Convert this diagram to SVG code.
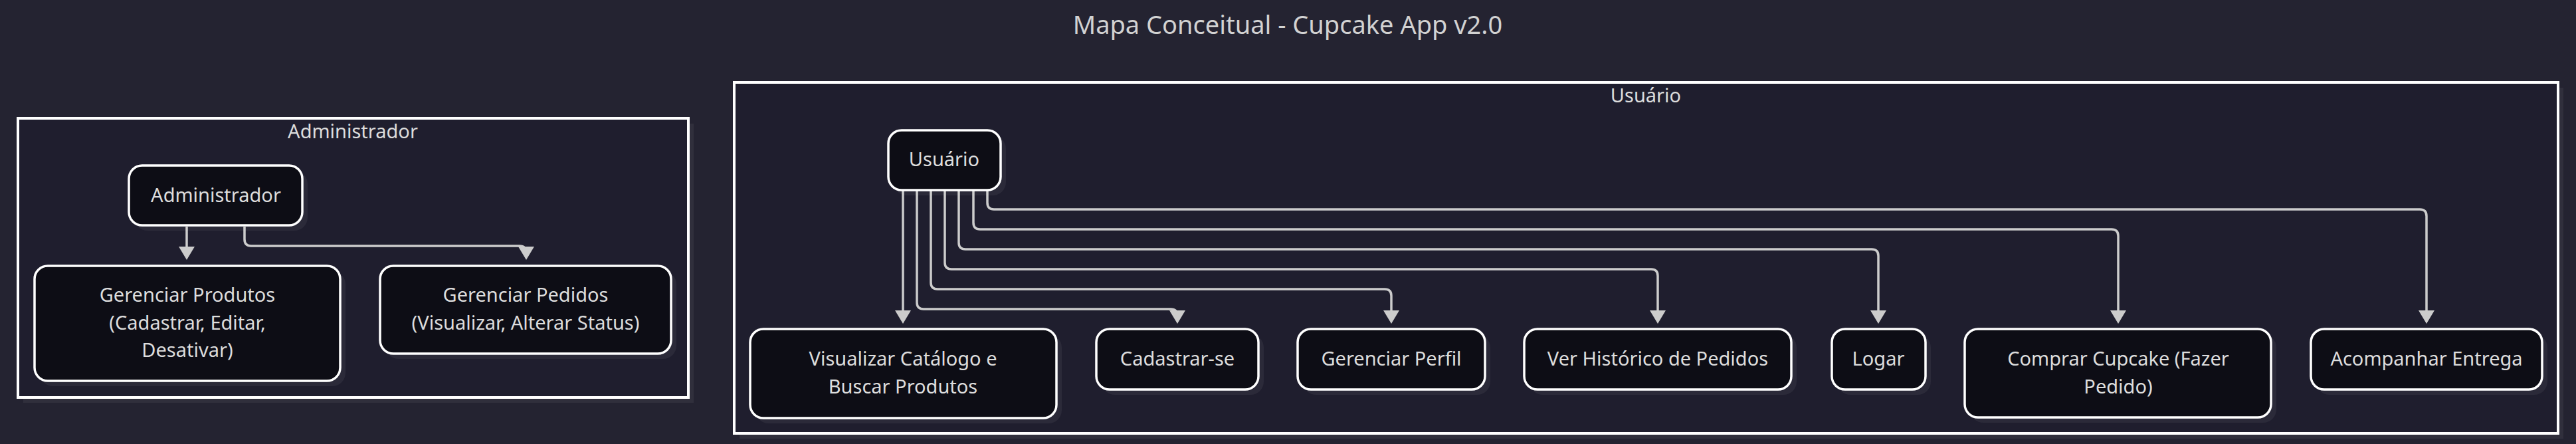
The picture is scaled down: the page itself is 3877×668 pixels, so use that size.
<svg xmlns="http://www.w3.org/2000/svg" width="3877" height="668" viewBox="0 0 3877 668">
  <defs>
    <marker id="arrow" markerUnits="userSpaceOnUse" viewBox="0 0 20 24" markerWidth="20" markerHeight="24" refX="13" refY="12" orient="auto">
      <path d="M0,0 L20,12 L0,24 z" fill="#cccccc"/>
    </marker>
  </defs>
  <style>
    .bg { fill: #242331; }
    .cluster { fill: #1f1e2e; stroke: #ffffff; stroke-width: 4; }
    .shadow { fill: #ffffff; fill-opacity: 0.055; }
    .node { fill: #0d0d15; stroke: #ffffff; stroke-width: 3.5; }
    .txt { font-family: "Noto Sans", "Open Sans", sans-serif; font-size: 29px; fill: #dddddd; text-anchor: middle; }
    .title { font-family: "Noto Sans", "Open Sans", sans-serif; font-size: 38px; fill: #d2d2d2; text-anchor: middle; }
    .edge { fill: none; stroke: #cccccc; stroke-width: 3.5; marker-end: url(#arrow); }
  </style>
  <rect class="bg" x="0" y="0" width="3877" height="668"/>
  <text class="title" x="1938" y="51">Mapa Conceitual - Cupcake App v2.0</text>

  <g id="cluster-admin">
    <rect class="shadow" x="35" y="186" width="1009" height="420"/>
    <rect class="cluster" x="27" y="178" width="1009" height="420"/>
    <text class="txt" x="531" y="208">Administrador</text>
  </g>
  <g id="cluster-usuario">
    <rect class="shadow" x="1113" y="132" width="2745" height="528"/>
    <rect class="cluster" x="1105" y="124" width="2745" height="528"/>
    <text class="txt" x="2477" y="154">Usuário</text>
  </g>

  <g id="connectors">
    <path class="edge" d="M281,341 L281,384"/>
    <path class="edge" d="M368,341 L368,360 Q368,370 378,370 L782,370 Q792,370 792,380 L792,384"/>
    <path class="edge" d="M1359,286 L1359,480"/>
    <path class="edge" d="M1380,286 L1380,455 Q1380,465 1390,465 L1762,465 Q1772,465 1772,475 L1772,480"/>
    <path class="edge" d="M1401,286 L1401,425 Q1401,435 1411,435 L2084,435 Q2094,435 2094,445 L2094,480"/>
    <path class="edge" d="M1422,286 L1422,395 Q1422,405 1432,405 L2485,405 Q2495,405 2495,415 L2495,480"/>
    <path class="edge" d="M1443,286 L1443,365 Q1443,375 1453,375 L2817,375 Q2827,375 2827,385 L2827,480"/>
    <path class="edge" d="M1465,286 L1465,335 Q1465,345 1475,345 L3178,345 Q3188,345 3188,355 L3188,480"/>
    <path class="edge" d="M1486,286 L1486,305 Q1486,315 1496,315 L3642,315 Q3652,315 3652,325 L3652,480"/>
  </g>

  <g id="node-admin">
    <rect class="shadow" x="202" y="257" width="261" height="90" rx="20"/>
    <rect class="node" x="194" y="249" width="261" height="90" rx="20"/>
    <text class="txt" x="325" y="304">Administrador</text>
  </g>
  <g id="node-gerenciar-produtos">
    <rect class="shadow" x="60" y="408" width="460" height="173" rx="20"/>
    <rect class="node" x="52" y="400" width="460" height="173" rx="20"/>
    <text class="txt" x="282" y="454">Gerenciar Produtos</text>
    <text class="txt" x="282" y="496">(Cadastrar, Editar,</text>
    <text class="txt" x="282" y="537">Desativar)</text>
  </g>
  <g id="node-gerenciar-pedidos">
    <rect class="shadow" x="580" y="408" width="438" height="132" rx="20"/>
    <rect class="node" x="572" y="400" width="438" height="132" rx="20"/>
    <text class="txt" x="791" y="454">Gerenciar Pedidos</text>
    <text class="txt" x="791" y="496">(Visualizar, Alterar Status)</text>
  </g>

  <g id="node-usuario">
    <rect class="shadow" x="1345" y="204" width="169" height="90" rx="20"/>
    <rect class="node" x="1337" y="196" width="169" height="90" rx="20"/>
    <text class="txt" x="1421" y="250">Usuário</text>
  </g>
  <g id="node-visualizar">
    <rect class="shadow" x="1137" y="503" width="461" height="134" rx="20"/>
    <rect class="node" x="1129" y="495" width="461" height="134" rx="20"/>
    <text class="txt" x="1359" y="550">Visualizar Catálogo e</text>
    <text class="txt" x="1359" y="592">Buscar Produtos</text>
  </g>
  <g id="node-cadastrar">
    <rect class="shadow" x="1658" y="503" width="244" height="91" rx="20"/>
    <rect class="node" x="1650" y="495" width="244" height="91" rx="20"/>
    <text class="txt" x="1772" y="550">Cadastrar-se</text>
  </g>
  <g id="node-perfil">
    <rect class="shadow" x="1961" y="503" width="282" height="91" rx="20"/>
    <rect class="node" x="1953" y="495" width="282" height="91" rx="20"/>
    <text class="txt" x="2094" y="550">Gerenciar Perfil</text>
  </g>
  <g id="node-historico">
    <rect class="shadow" x="2302" y="503" width="402" height="91" rx="20"/>
    <rect class="node" x="2294" y="495" width="402" height="91" rx="20"/>
    <text class="txt" x="2495" y="550">Ver Histórico de Pedidos</text>
  </g>
  <g id="node-logar">
    <rect class="shadow" x="2765" y="503" width="141" height="91" rx="20"/>
    <rect class="node" x="2757" y="495" width="141" height="91" rx="20"/>
    <text class="txt" x="2827" y="550">Logar</text>
  </g>
  <g id="node-comprar">
    <rect class="shadow" x="2965" y="503" width="461" height="133" rx="20"/>
    <rect class="node" x="2957" y="495" width="461" height="133" rx="20"/>
    <text class="txt" x="3188" y="550">Comprar Cupcake (Fazer</text>
    <text class="txt" x="3188" y="592">Pedido)</text>
  </g>
  <g id="node-acompanhar">
    <rect class="shadow" x="3486" y="503" width="348" height="91" rx="20"/>
    <rect class="node" x="3478" y="495" width="348" height="91" rx="20"/>
    <text class="txt" x="3652" y="550">Acompanhar Entrega</text>
  </g>
</svg>
